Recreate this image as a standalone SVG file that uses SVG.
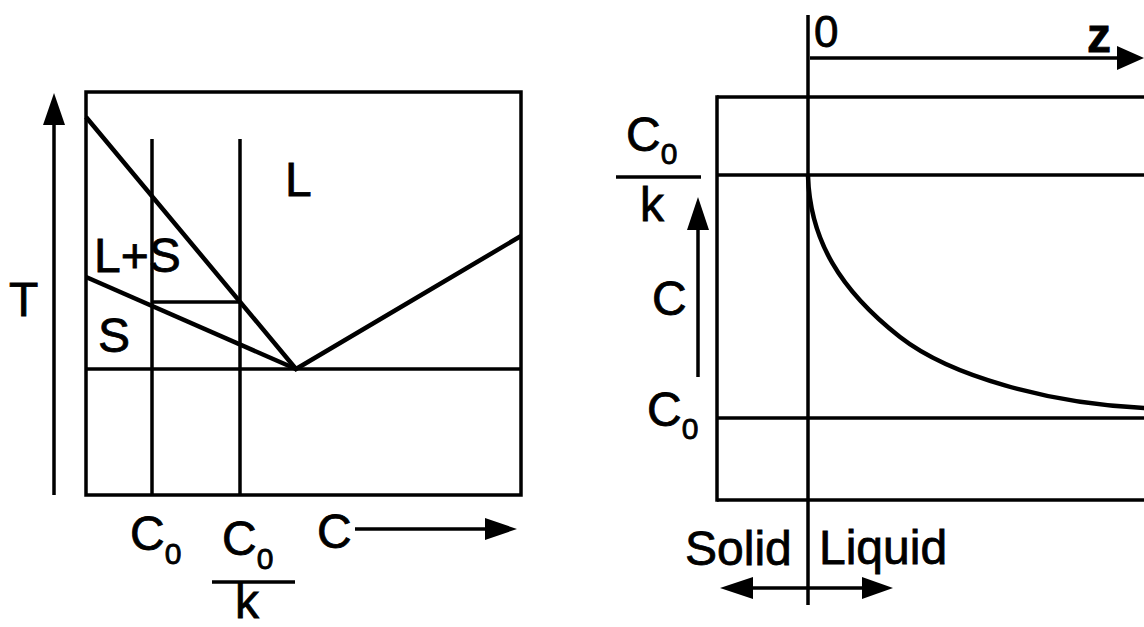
<svg xmlns="http://www.w3.org/2000/svg" width="1144" height="627" viewBox="0 0 1144 627">
<style>
.ln{stroke:#000;stroke-width:3.5;fill:none;stroke-linecap:butt}
.th{stroke:#000;stroke-width:4.5;fill:none}
.tx{font-family:"Liberation Sans",Arial,Helvetica,sans-serif;font-size:48px;fill:#000;stroke:#000;stroke-width:0.8}
.sb{font-size:30px}
.ah{fill:#000;stroke:none}
</style>
<rect width="1144" height="627" fill="#fff"/>
<g id="phase-diagram">
  <rect class="ln" x="86" y="92" width="435" height="403"/>
  <line class="ln" x1="152" y1="139" x2="152" y2="495"/>
  <line class="ln" x1="240" y1="139" x2="240" y2="495"/>
  <line class="ln" x1="86" y1="369" x2="521" y2="369"/>
  <line class="ln" x1="152" y1="302" x2="240" y2="302"/>
  <polyline class="th" points="86,117 296,369 521,236"/>
  <line class="th" x1="86" y1="277" x2="296" y2="369"/>
</g>
<g id="left-labels">
  <text class="tx" x="9" y="316">T</text>
  <text class="tx" x="285" y="196">L</text>
  <text class="tx" x="94" y="272">L+S</text>
  <text class="tx" x="98" y="352">S</text>
  <text class="tx" x="130" y="550">C<tspan class="sb" dy="14">0</tspan></text>
  <text class="tx" x="222" y="555">C<tspan class="sb" dy="14">0</tspan></text>
  <line class="ln" x1="212" y1="582" x2="295" y2="582"/>
  <text class="tx" x="235" y="618">k</text>
  <text class="tx" x="317" y="548">C</text>
</g>
<g id="profile-diagram">
  <line class="ln" x1="717" y1="97" x2="1150" y2="97"/>
  <line class="ln" x1="717" y1="175" x2="1150" y2="175"/>
  <line class="ln" x1="717" y1="418" x2="1150" y2="418"/>
  <line class="ln" x1="717" y1="500" x2="1150" y2="500"/>
  <line class="ln" x1="717" y1="95.3" x2="717" y2="501.7"/>
  <line class="ln" x1="808" y1="15" x2="808" y2="605"/>
  <path class="th" d="M808,176 C810,240 840,290 900,337 C950,376 1050,404 1146,408"/>
</g>
<g id="right-labels">
  <text class="tx" x="814" y="47" style="font-size:44px">0</text>
  <text class="tx" x="1087" y="52" font-weight="bold">z</text>
  <text class="tx" x="626" y="151">C<tspan class="sb" dy="13">0</tspan></text>
  <line class="ln" x1="616" y1="177" x2="701" y2="177"/>
  <text class="tx" x="640" y="221">k</text>
  <text class="tx" x="652" y="315">C</text>
  <text class="tx" x="647" y="426">C<tspan class="sb" dy="13">0</tspan></text>
  <text class="tx" x="685" y="565">Solid</text>
  <text class="tx" x="819" y="564">Liquid</text>
</g>
<g id="connectors">
  <line class="ln" x1="54" y1="495" x2="54" y2="120"/>
  <polygon class="ah" points="54,93 43,125 65,125"/>
  <line class="ln" x1="355" y1="529" x2="490" y2="529"/>
  <polygon class="ah" points="517,529 485,518 485,540"/>
  <line class="ln" x1="810" y1="58" x2="1120" y2="58"/>
  <polygon class="ah" points="1144,58 1117,46 1117,70"/>
  <line class="ln" x1="698" y1="377" x2="698" y2="225"/>
  <polygon class="ah" points="698,197 687,230 709,230"/>
  <line class="ln" x1="748" y1="588" x2="867" y2="588"/>
  <polygon class="ah" points="720,588 753,577 753,599"/>
  <polygon class="ah" points="893,588 862,577 862,599"/>
</g>
</svg>
